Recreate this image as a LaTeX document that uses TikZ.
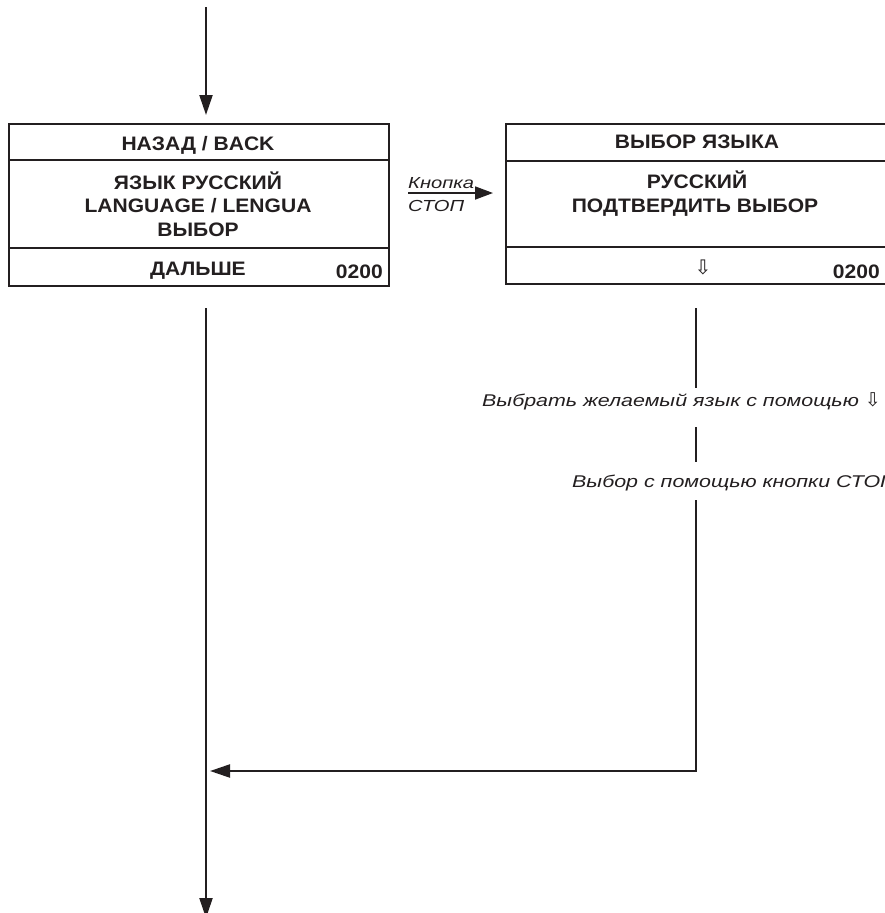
\documentclass[tikz,border=0pt]{standalone}
\usepackage{fontspec}
\setmainfont{Liberation Sans}
\newfontfamily\boxfont[FakeStretch=1.08]{Liberation Sans}
\newfontfamily\notefont[FakeStretch=1.26]{Liberation Sans}
\newfontfamily\symfont{DejaVu Sans}
\usetikzlibrary{arrows.meta}
\definecolor{ink}{HTML}{231F20}
\begin{document}
\begin{tikzpicture}[x=1pt,y=-1pt,
  line/.style={line width=2.2pt, draw=ink},
  flow/.style={line, -{Triangle[length=20pt,width=13pt]}},
  cell/.style={draw=ink, line width=2pt, inner sep=0pt, anchor=north west},
  boxtext/.style={text=ink, font=\boxfont\fontsize{19.5}{23.5}\selectfont\bfseries, inner sep=0pt},
  note/.style={text=ink, font=\notefont\fontsize{17}{20}\selectfont\itshape, inner sep=0pt}
]
\useasboundingbox (0,0) rectangle (885,913);

% left screen
\node[cell, minimum width=380pt, minimum height=36pt] (lA) at (8,123) {};
\node[cell, minimum width=380pt, minimum height=88pt] (lB) at (8,159) {};
\node[cell, minimum width=380pt, minimum height=38pt] (lC) at (8,247) {};
\node[boxtext, anchor=base] (lAt) at (198,150) {НАЗАД / BACK};
\node[boxtext, anchor=base] (lBt1) at (198,189) {ЯЗЫК РУССКИЙ};
\node[boxtext, anchor=base] (lBt2) at (198,212.5) {LANGUAGE / LENGUA};
\node[boxtext, anchor=base] (lBt3) at (198,236) {ВЫБОР};
\node[boxtext, anchor=base] (lCt) at (198,275) {ДАЛЬШЕ};
\node[boxtext, anchor=base east] (lCn) at (383,278) {0200};

% right screen
\node[cell, minimum width=383pt, minimum height=37pt] (rA) at (505,123) {};
\node[cell, minimum width=383pt, minimum height=86pt] (rB) at (505,160) {};
\node[cell, minimum width=383pt, minimum height=37pt] (rC) at (505,246) {};
\node[boxtext, anchor=base] (rAt) at (697,148) {ВЫБОР ЯЗЫКА};
\node[boxtext, anchor=base] (rBt1) at (697,188) {РУССКИЙ};
\node[boxtext, anchor=base] (rBt2) at (695,212) {ПОДТВЕРДИТЬ ВЫБОР};
\node[text=ink, font=\symfont\fontsize{20}{22}\selectfont, inner sep=0pt, anchor=base] (rCt) at (703,274) {⇩};
\node[boxtext, anchor=base east] (rCn) at (880,278) {0200};

% incoming arrow
\coordinate (in) at (206,7);
\draw[flow, shorten >=8pt] (in) -- (in |- lA.north);

% main line
\coordinate (mtop) at (206,308);
\coordinate (mbot) at (206,918);
\draw[flow] (mtop) -- (mbot);

% STOP button transition
\coordinate (k0) at (408,193);
\draw[line, line width=1.8pt, -{Triangle[length=18pt,width=13pt]}, shorten >=12pt] (k0) -- (k0 -| rB.west);
\node[note, font=\notefont\fontsize{16}{19}\selectfont\itshape, anchor=base west] (kn1) at (408,188) {Кнопка};
\node[note, font=\notefont\fontsize{16}{19}\selectfont\itshape, anchor=base west] (kn2) at (408,211) {СТОП};

% return path
\coordinate (v0) at (696,308);
\coordinate (v1) at (696,388);
\coordinate (v2) at (696,427);
\coordinate (v3) at (696,462);
\coordinate (v4) at (696,500);
\coordinate (corner) at (696,771);
\draw[line] (v0) -- (v1);
\draw[line] (v2) -- (v3);
\draw[flow, shorten >=4pt] (v4) -- (corner) -- (mtop |- corner);
\node[note, anchor=base west] (n1) at (482,406) {Выбрать желаемый язык с помощью {\symfont\fontsize{19}{21}\selectfont ⇩}};
\node[note, anchor=base west] (n2) at (572,487) {Выбор с помощью кнопки СТОП};
\end{tikzpicture}
\end{document}
